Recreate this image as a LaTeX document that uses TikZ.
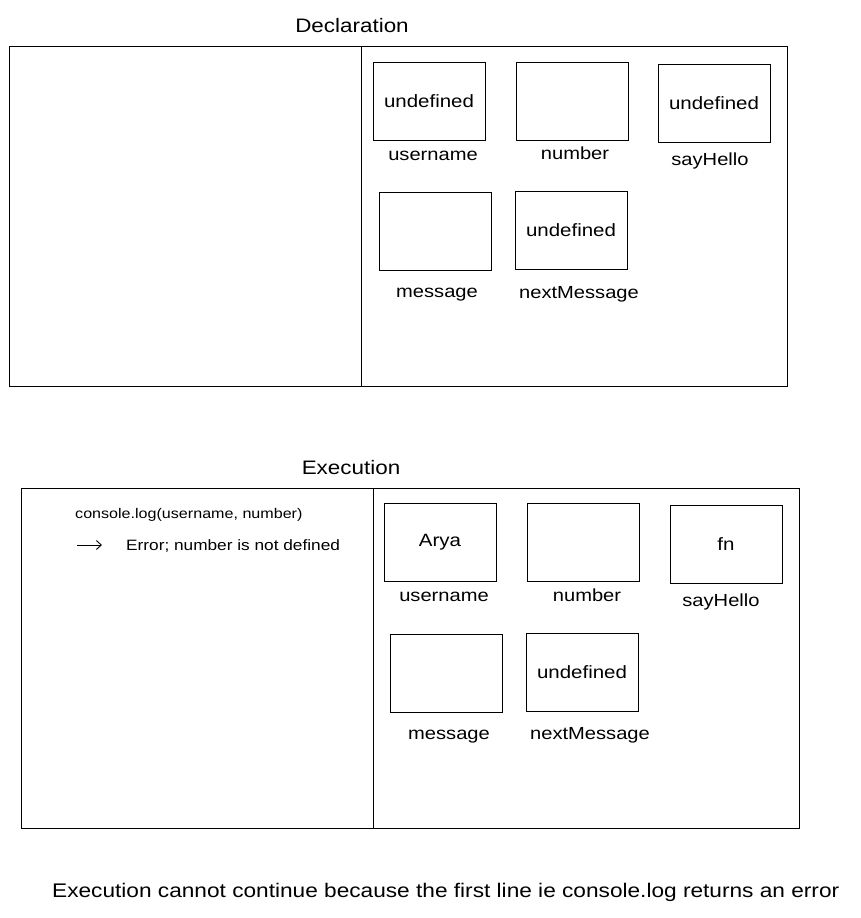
\documentclass[tikz,border=0pt]{standalone}
\usepackage{fontspec}
\setmainfont{Liberation Sans}[FakeStretch=1.15]
\usetikzlibrary{arrows.meta}
\begin{document}
\begin{tikzpicture}[x=1pt,y=-1pt,
  frame/.style={draw=black,line width=0.9pt},
  varbox/.style={draw=black,line width=0.9pt,minimum width=112pt,minimum height=78pt,inner sep=0pt,font=\fontsize{17.8}{20}\selectfont},
  lbl/.style={inner sep=0pt,font=\fontsize{17.5}{20}\selectfont},
  ttl/.style={inner sep=0pt,font=\fontsize{19.5}{21}\selectfont},
  small/.style={inner sep=0pt,anchor=west,font=\fontsize{14}{16}\selectfont}]
\useasboundingbox (0,0) rectangle (861,918);
\fill[white] (0,0) rectangle (861,918);

% ---------- Declaration ----------
\node[ttl] (dtitle) at (352,26) {Declaration};
\node[frame,minimum width=778pt,minimum height=340pt,inner sep=0pt] (dframe) at (398,216) {};
\coordinate (ddivt) at (361,46);
\coordinate (ddivb) at (361,386);
\draw[line width=0.9pt] (ddivt) -- (ddivb);

\node[varbox] (du) at (429,101) {undefined};
\node[varbox] (dn) at (572,101) {};
\node[varbox] (ds) at (714,103) {undefined};
\node[varbox] (dm) at (435,231) {};
\node[varbox] (dx) at (571,230) {undefined};

\node[lbl] (dul) at (433,156) {username};
\node[lbl] (dnl) at (575,153) {number};
\node[lbl] (dsl) at (710,161) {sayHello};
\node[lbl] (dml) at (437,295) {message};
\node[lbl] (dxl) at (579,294) {nextMessage};

% ---------- Execution ----------
\node[ttl] (etitle) at (351,468) {Execution};
\node[frame,minimum width=778pt,minimum height=340pt,inner sep=0pt] (eframe) at (410,658) {};
\coordinate (edivt) at (373,488);
\coordinate (edivb) at (373,828);
\draw[line width=0.9pt] (edivt) -- (edivb);

\node[varbox] (eu) at (440,542) {Arya};
\node[varbox] (en) at (583,542) {};
\node[varbox] (es) at (726,544) {fn};
\node[varbox] (em) at (446,673) {};
\node[varbox] (ex) at (582,672) {undefined};

\node[lbl] (eul) at (444,597) {username};
\node[lbl] (enl) at (587,595) {number};
\node[lbl] (esl) at (721,602) {sayHello};
\node[lbl] (eml) at (449,737) {message};
\node[lbl] (exl) at (590,735) {nextMessage};

\node[small] (code) at (75,515) {console.log(username, number)};
\coordinate (arrs) at (77,545);
\coordinate (arre) at (102,545);
\draw[line width=0.9pt,-{Straight Barb[length=5pt,width=9pt]}] (arrs) -- (arre);
\node[small,font=\fontsize{15}{17}\selectfont] (err) at (126,546) {Error; number is not defined};

\node[inner sep=0pt,anchor=west,font=\fontsize{19.7}{22}\selectfont] (note) at (52,892) {Execution cannot continue because the first line ie console.log returns an error};
\end{tikzpicture}
\end{document}
